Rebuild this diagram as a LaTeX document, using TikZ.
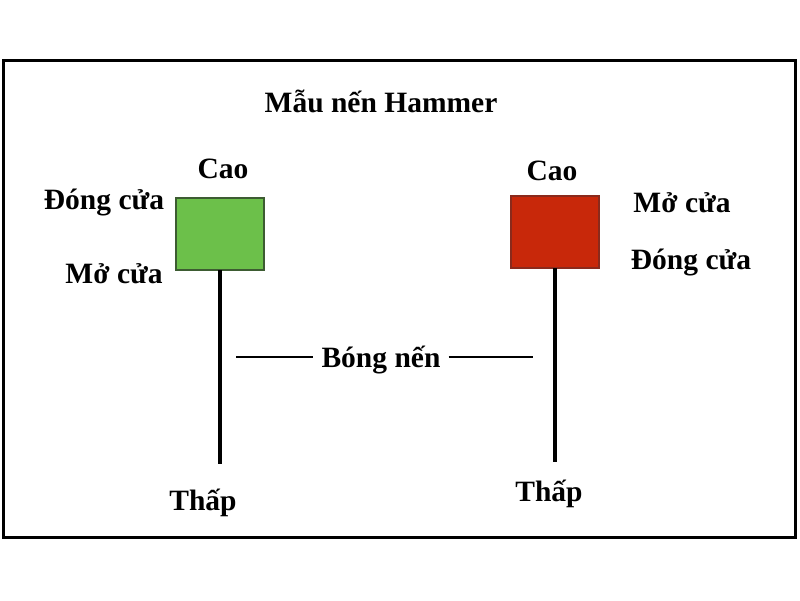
\documentclass[tikz,border=0pt]{standalone}
\usepackage{fontspec}
\setmainfont{Liberation Serif}
\definecolor{candlegreen}{HTML}{6CC04A}
\definecolor{greenedge}{HTML}{3D5C32}
\definecolor{candlered}{HTML}{C8280A}
\definecolor{rededge}{HTML}{8A2A1C}
\begin{document}
\begin{tikzpicture}[x=1pt,y=-1pt,
  lbl/.style={font=\bfseries\fontsize{29.5}{32}\selectfont, inner sep=0pt, yshift=-3pt},
  greenbox/.style={draw=greenedge, line width=1.5pt, fill=candlegreen},
  redbox/.style={draw=rededge, line width=1.2pt, fill=candlered},
  wick/.style={line width=4.8pt},
  thin/.style={line width=1.3pt}]
\useasboundingbox (0,0) rectangle (800,600);
\draw[line width=3pt] (3,60) rectangle (795,537);
\node[lbl] (title) at (381,98) {Mẫu nến Hammer};
% green candle
\path[greenbox] (176,198) rectangle (264,270);
\coordinate (gtop) at (220,270);
\coordinate (gbot) at (220,464);
\draw[wick] (gtop) -- (gbot);
\node[lbl] (gcao) at (223,166) {Cao};
\node[lbl] (gdong) at (104,200) {Đóng cửa};
\node[lbl] (gmo) at (114,271) {Mở cửa};
\node[lbl] (gthap) at (203,500) {Thấp};
% red candle
\path[redbox] (511,196) rectangle (599,268);
\coordinate (rtop) at (555,268);
\coordinate (rbot) at (555,462);
\draw[wick] (rtop) -- (rbot);
\node[lbl] (rcao) at (552,168) {Cao};
\node[lbl] (rmo) at (682,200) {Mở cửa};
\node[lbl] (rdong) at (691,260) {Đóng cửa};
\node[lbl] (rthap) at (549,491) {Thấp};
% shadow label
\node[lbl] (bong) at (381,357) {Bóng nến};
\coordinate (la) at (236,357);
\coordinate (rb) at (533,357);
\draw[thin] (la) -- ([xshift=-8pt]bong.west |- la);
\draw[thin] ([xshift=8pt]bong.east |- rb) -- (rb);
\end{tikzpicture}
\end{document}
